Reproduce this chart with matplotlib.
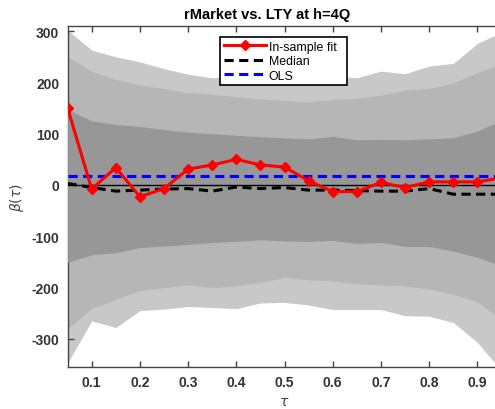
import numpy as np
import matplotlib
matplotlib.use("Agg")
import matplotlib.pyplot as plt

plt.rcParams['font.family'] = ['Liberation Sans', 'DejaVu Sans']

# Quantile levels
tau = [0.05, 0.10, 0.15, 0.20, 0.25, 0.30, 0.35, 0.40, 0.45, 0.50,
       0.55, 0.60, 0.65, 0.70, 0.75, 0.80, 0.85, 0.90, 0.95]

# In-sample quantile regression coefficient
insample_fit = [150, -8, 34, -23, -7, 31, 39, 50, 39, 35,
                8, -13, -13, 5, -5, 6, 6, 6, 14]

# Median of simulated coefficients
median = [3, -5, -12, -10, -8, -7, -12, -4, -7, -5,
          -10, -10, -11, -12, -12, -7, -18, -18, -18]

# OLS coefficient
ols = 17.5

# Simulated confidence bands (outer, middle, inner)
outer_upper = [302, 263, 250, 240, 227, 216, 209, 212, 211, 212,
               214, 213, 209, 222, 217, 232, 237, 276, 298]
outer_lower = [-347, -265, -278, -245, -242, -237, -239, -241, -230, -229,
               -234, -243, -243, -243, -255, -256, -268, -307, -362]
middle_upper = [250, 222, 206, 195, 188, 180, 177, 172, 168, 165,
                162, 167, 169, 175, 185, 188, 199, 219, 237]
middle_lower = [-280, -241, -223, -206, -200, -195, -200, -197, -190, -180,
                -185, -187, -193, -195, -197, -203, -213, -228, -262]
inner_upper = [147, 125, 118, 114, 108, 103, 100, 97, 94, 92,
               90, 95, 88, 89, 88, 90, 92, 105, 126]
inner_lower = [-151, -136, -132, -122, -119, -116, -112, -110, -107, -109,
               -110, -108, -114, -112, -120, -120, -129, -141, -158]

xticks = [0.1, 0.2, 0.3, 0.4, 0.5, 0.6, 0.7, 0.8, 0.9]
yticks = [-300, -200, -100, 0, 100, 200, 300]

fig = plt.figure(figsize=(4.95, 4.10), dpi=100)
ax = fig.add_axes([0.1366, 0.1024, 0.8764, 0.8317])

ax.fill_between(tau, outer_lower, outer_upper, color='#c8c8c8', lw=0, zorder=1)
ax.fill_between(tau, middle_lower, middle_upper, color='#b6b6b6', lw=0, zorder=2)
ax.fill_between(tau, inner_lower, inner_upper, color='#979797', lw=0, zorder=3)

ax.axhline(0, color='black', lw=1.0, zorder=4)

ax.plot(tau, insample_fit, color='#ff0000', lw=2.2, marker='D', ms=5,
        label='In-sample fit', zorder=7)
ax.plot(tau, median, color='black', lw=2.2, ls=(0, (3, 1.8)),
        label='Median', zorder=5)
ax.axhline(ols, color='#0000ff', lw=2.2, ls=(0, (3, 1.8)),
           label='OLS', zorder=6)

ax.set_xlim(0.05, 0.95)
ax.set_ylim(-355, 310)
ax.set_xticks(xticks)
ax.set_yticks(yticks)
ax.set_xticklabels([f"{t:.1f}" for t in xticks])
ax.set_yticklabels([str(t) for t in yticks])

for side in ['left', 'bottom', 'top']:
    ax.spines[side].set_color('#444444')
    ax.spines[side].set_linewidth(1.0)
ax.spines['right'].set_visible(False)
ax.tick_params(direction='in', length=4, width=1, color='#444444',
               top=True, labelsize=10, labelcolor='#333333', pad=6)
for lab in ax.get_xticklabels() + ax.get_yticklabels():
    lab.set_fontweight('bold')

ax.set_xlabel(r'$\tau$', fontsize=10, color='#444444', labelpad=3)
ax.set_ylabel(r'$\beta(\tau)$', fontsize=10, color='#444444', labelpad=4)

fig.text(267.5 / 495, 1 - 15 / 410, 'rMarket vs. LTY at h=4Q',
         ha='center', va='center', fontsize=10.5, fontweight='bold')

leg = ax.legend(loc='upper left', bbox_to_anchor=(0.351, 0.968, 0.2928, 0.0),
                mode='expand', borderaxespad=0, fancybox=False, framealpha=1,
                edgecolor='black', fontsize=8.9, handlelength=3.4,
                handletextpad=0.25, labelspacing=0.2, borderpad=0.3)
leg.get_frame().set_linewidth(1.2)

fig.savefig('out.png', dpi=100)
